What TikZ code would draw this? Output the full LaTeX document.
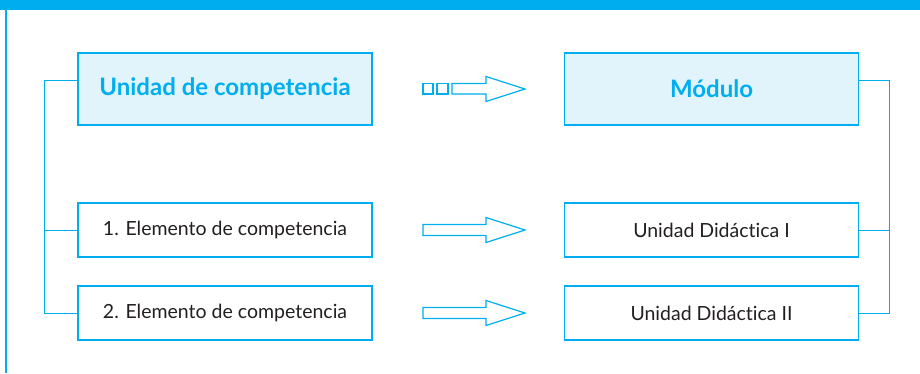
\documentclass[tikz,border=0pt]{standalone}
\usepackage{fontspec}
\setmainfont{Lato}[Ligatures={NoCommon,NoRare}]
\definecolor{cblue}{HTML}{00AEEF}
\definecolor{cfill}{HTML}{E1F4FB}
\definecolor{ctext}{HTML}{231F20}
\begin{document}
\begin{tikzpicture}[x=1pt,y=-1pt,
  basebox/.style={draw=cblue, line width=1.4pt, minimum width=294pt, inner sep=0pt},
  headbox/.style={basebox, fill=cfill, minimum height=72pt, text=cblue, font=\fontsize{24}{28}\selectfont\bfseries},
  itembox/.style={basebox, fill=white, minimum height=54pt, text=ctext, font=\fontsize{19.5}{23}\selectfont},
  link/.style={draw=cblue, line width=1pt},
  arr/.style={draw=cblue, line width=1.2pt, fill=white, line join=miter}]
\useasboundingbox (0,0) rectangle (920,373);
\fill[cblue] (0,0) rectangle (920,10);
\draw[cblue, line width=2pt] (6,10) -- (6,373);

\node[headbox] (uc) at (225,89) {Unidad de competencia};
\node[headbox] (mod) at (711.5,89) {Módulo};
\node[itembox] (e1) at (225,230) {1. Elemento de competencia};
\node[itembox] (e2) at (225,313) {2. Elemento de competencia};
\node[itembox] (u1) at (711.5,230) {Unidad Didáctica I};
\node[itembox] (u2) at (711.5,313) {Unidad Didáctica II};

\draw[link] ([yshift=9pt]uc.west) -- ++(-33,0) |- (e2.west);
\draw[link] (e1.west) -- ++(-33,0);
\draw[link] ([yshift=9pt]mod.east) -- ++(30,0) |- (u2.east);
\draw[link] (u1.east) -- ++(30,0);

% top arrow with squares
\draw[arr] (423,83.5) rectangle (433,94);
\draw[arr] (437,83.5) rectangle (448,94);
\draw[arr] (452,83.5) -- (486,83.5) -- (486,76.5) -- (525,89) -- (486,101.5) -- (486,94) -- (452,94) -- cycle;
% other arrows
\draw[arr] (423,224.5) -- (486,224.5) -- (486,217.5) -- (525,230) -- (486,242.5) -- (486,235.5) -- (423,235.5) -- cycle;
\draw[arr] (423,307.5) -- (486,307.5) -- (486,300.5) -- (525,313) -- (486,325.5) -- (486,318.5) -- (423,318.5) -- cycle;
\end{tikzpicture}
\end{document}
